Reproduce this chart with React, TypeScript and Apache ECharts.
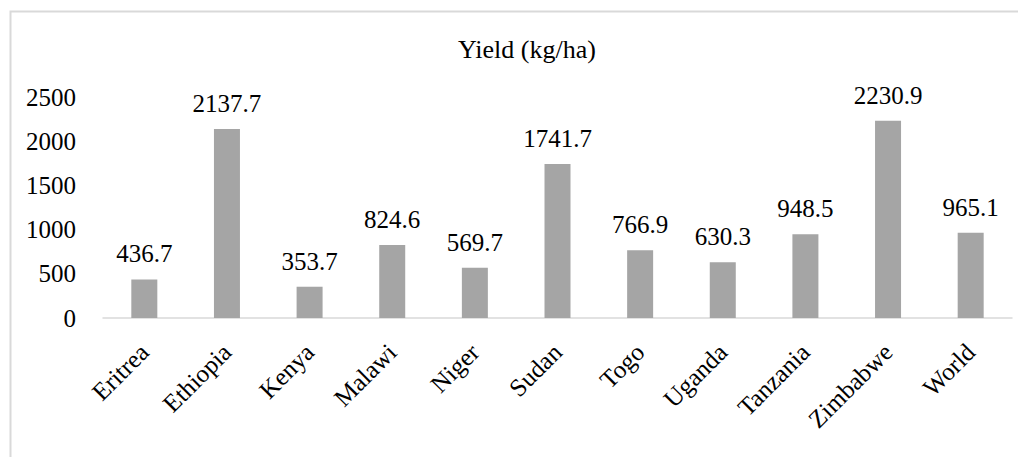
import React, { useEffect, useRef } from "react";
import * as echarts from "echarts";

const categories = ["Eritrea", "Ethiopia", "Kenya", "Malawi", "Niger", "Sudan", "Togo", "Uganda", "Tanzania", "Zimbabwe", "World"];
const yieldValues = [436.7, 2137.7, 353.7, 824.6, 569.7, 1741.7, 766.9, 630.3, 948.5, 2230.9, 965.1];
const titleText = "Yield (kg/ha)";

const FONT = "Liberation Serif";

export default function App() {
  const ref = useRef<HTMLDivElement>(null);
  useEffect(() => {
    if (!ref.current) return;
    const chart = echarts.init(ref.current, null, { renderer: "svg" });
    chart.setOption({
      animation: false,
      backgroundColor: "#fff",
      textStyle: { fontFamily: FONT },
      title: {
        text: titleText,
        left: 453,
        top: 31,
        textStyle: { fontFamily: FONT, fontSize: 26, fontWeight: "normal", color: "#000" },
      },
      graphic: [
        {
          type: "rect",
          shape: { x: 10.5, y: 11.5, width: 1200, height: 700 },
          style: { fill: "none", stroke: "#d9d9d9", lineWidth: 2 },
          silent: true,
        },
      ],
      grid: { left: 103, right: 14, top: 97, bottom: 139, containLabel: false },
      xAxis: {
        type: "category",
        data: categories,
        axisLine: { show: true, lineStyle: { color: "#d9d9d9", width: 1.5 } },
        axisTick: { show: false },
        axisLabel: {
          rotate: 45,
          interval: 0,
          margin: 30,
          fontFamily: FONT,
          fontSize: 25,
          color: "#000",
        },
      },
      yAxis: {
        type: "value",
        min: 0,
        max: 2500,
        interval: 500,
        splitLine: { show: false },
        axisLine: { show: false },
        axisTick: { show: false },
        axisLabel: {
          margin: 27,
          fontFamily: FONT,
          fontSize: 25,
          color: "#000",
          formatter: (v: number) => String(v),
        },
      },
      series: [
        {
          type: "bar",
          data: yieldValues,
          barWidth: 26,
          itemStyle: { color: "#a5a5a5" },
          label: {
            show: true,
            position: "top",
            distance: 13,
            fontFamily: FONT,
            fontSize: 25,
            color: "#000",
            formatter: (p: any) => Number(p.value).toFixed(1),
          },
        },
      ],
    });
    return () => chart.dispose();
  }, []);
  return (
    <div
      ref={ref}
      style={{ width: 1026, height: 457, marginLeft: -8, marginTop: -8 }}
    />
  );
}
